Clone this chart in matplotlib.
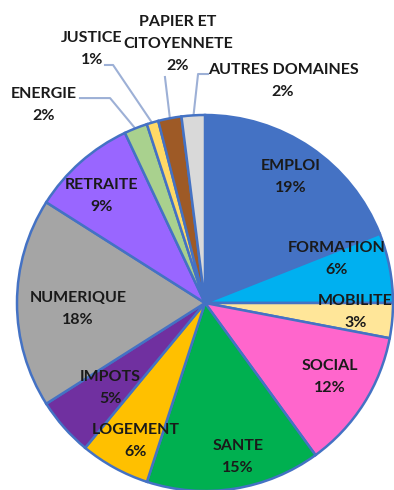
import matplotlib
matplotlib.use("Agg")
import matplotlib.pyplot as plt
import numpy as np

# Share of requests by domain (%)
categories = ["EMPLOI", "FORMATION", "MOBILITE", "SOCIAL", "SANTE", "LOGEMENT",
              "IMPOTS", "NUMERIQUE", "RETRAITE", "ENERGIE", "JUSTICE",
              "PAPIER ET\nCITOYENNETE", "AUTRES DOMAINES"]
values = [19, 6, 3, 12, 15, 6, 5, 18, 9, 2, 1, 2, 2]
colors = ["#4472C4", "#00B0F0", "#FFE699", "#FF66CC", "#00B050", "#FFC000",
          "#7030A0", "#A5A5A5", "#9966FF", "#A9D18E", "#FFD966",
          "#9E5A26", "#D9D9D9"]

# Label centres (axes data units, pie radius = 1)
label_pos = [(0.457, 0.670), (0.702, 0.234), (0.800, -0.048), (0.665, -0.394),
             (0.176, -0.819), (-0.367, -0.734), (-0.505, -0.452), (-0.676, -0.032),
             (-0.548, 0.569), (-0.856, 1.053), (-0.601, 1.351), (-0.144, 1.378),
             (0.415, 1.181)]
# Leader lines for the small outer slices: (start, elbow)
leaders = {9: ((-0.665, 1.090), (-0.505, 1.090)),
           10: ((-0.532, 1.266), (-0.489, 1.266)),
           11: ((-0.213, 1.202), (-0.213, 1.202)),
           12: ((0.016, 1.218), (-0.037, 1.218))}

W, H = 394, 490
fig = plt.figure(figsize=(W / 100, H / 100), dpi=100)
cx, cy, r = 205, 303, 188
ax = fig.add_axes([(cx - r) / W, (H - cy - r) / H, 2 * r / W, 2 * r / H])

wedges, _ = ax.pie(values, colors=colors, startangle=90, counterclock=False,
                   radius=1, center=(0, 0), frame=True,
                   wedgeprops=dict(edgecolor="#4472C4", linewidth=1.8))
ax.set_xlim(-1, 1)
ax.set_ylim(-1, 1)
ax.set_aspect("auto")
ax.axis("off")

font = dict(family=["Lato", "DejaVu Sans"], fontsize=11.5, fontweight="bold",
            color="#1a1a1a", ha="center", va="center", linespacing=1.7)

total = sum(values)
for i, (name, v) in enumerate(zip(categories, values)):
    x, y = label_pos[i]
    ax.text(x, y, f"{name}\n{round(100 * v / total)}%", **font, clip_on=False)
    if i in leaders:
        w = wedges[i]
        mid = np.deg2rad((w.theta1 + w.theta2) / 2)
        end = (0.99 * np.cos(mid), 0.99 * np.sin(mid))
        (sx, sy), (ex, ey) = leaders[i]
        ax.plot([sx, ex, end[0]], [sy, ey, end[1]], color="#9DB0D6",
                linewidth=1.5, clip_on=False, zorder=0)

fig.savefig("out.png", dpi=100, facecolor="white")
